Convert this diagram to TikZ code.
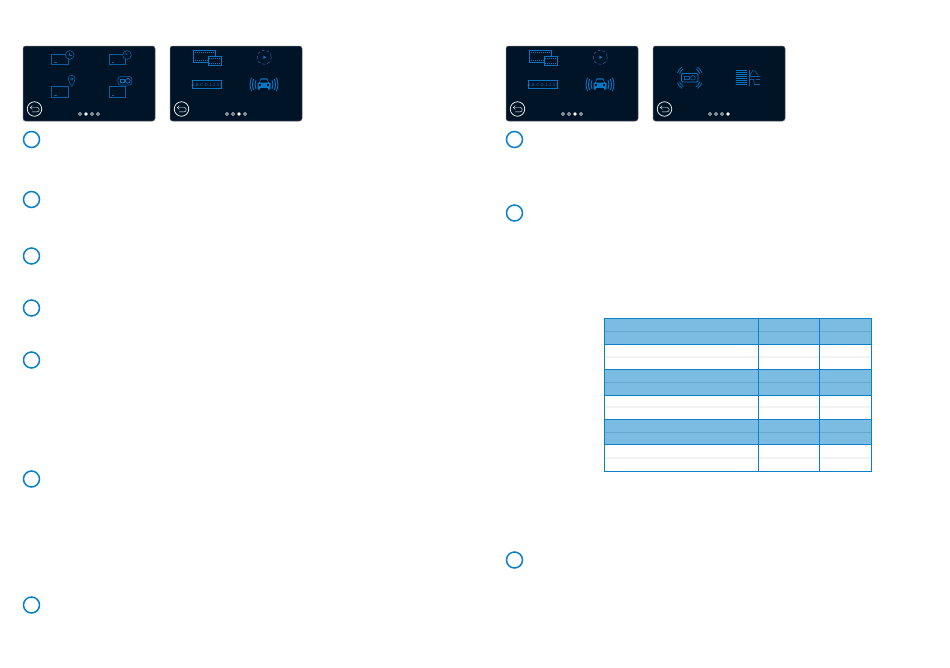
\documentclass[tikz,border=0pt]{standalone}
\usepackage{tikz}
\usetikzlibrary{positioning}
\definecolor{panelbg}{HTML}{001428}
\definecolor{iconblue}{HTML}{0A5F9F}
\definecolor{iconbright}{HTML}{0A76C2}
\definecolor{ringblue}{HTML}{0A80C8}
\definecolor{rowblue}{HTML}{7CBCE2}
\definecolor{rowline}{HTML}{68A6CE}
\definecolor{restline}{HTML}{F3F3F3}
\tikzset{
  panel/.style={draw=black!60, line width=0.5pt, fill=panelbg, rounded corners=2.5pt},
  icon/.style={draw=iconblue, line width=0.6pt},
  brighticon/.style={draw=iconbright, line width=0.9pt},
  backring/.style={circle, draw=white, line width=0.7pt, minimum size=14.5pt, inner sep=0pt},
  stepring/.style={circle, draw=ringblue, line width=1.5pt, minimum size=16pt, inner sep=0pt},
  % ------------------------------------------------
  % partes repetidas de los paneles
  % ------------------------------------------------
  pics/panelbase/.style={code={
    \path[panel] (0,0) rectangle (132,75);
    \node[backring] (-back) at (11.5,63) {};
    \draw[white, line width=0.45pt] (7.5,61.5) -- (14,61.5) .. controls (17,61.5) and (17,65.9) .. (14,65.9) -- (9,65.9);
    \draw[white, line width=0.45pt] (9.3,59.6) -- (7.3,61.5) -- (9.3,63.4);
    \foreach \n in {1,2,3,4} {
      \ifnum\n=#1
        \fill[white] (51+6*\n,68) circle (1.9);
      \else
        \draw[white, line width=0.6pt] (51+6*\n,68) circle (1.5);
      \fi
    }
  }},
  pics/screenicon/.style={code={
    \draw[icon] (0,0) rectangle (16.5,10.5);
    \draw[icon] (2.5,8.5) -- (5,8.5);
  }},
  pics/filmicons/.style={code={
    % fila de arriba
    \draw[brighticon] (23.3,4) rectangle (45,16.7);
    \draw[iconbright, densely dotted, line width=1pt] (24.8,6) -- (43.5,6);
    \draw[iconbright, densely dotted, line width=1pt] (24.8,14.8) -- (38,14.8);
    \draw[brighticon, fill=panelbg] (38.3,10) rectangle (51,19);
    \draw[iconbright, densely dotted, line width=1pt] (39.3,12) -- (50,12);
    \draw[iconbright, densely dotted, line width=1pt] (39.3,17) -- (50,17);
    \draw[icon, densely dashed] (94.3,11.3) circle (7);
    \fill[iconbright] (93.3,9.6) -- (96.5,11.3) -- (93.3,13) -- cycle;
    % fila de abajo
    \draw[brighticon] (22.3,34.7) rectangle (51.7,42.7);
    \node[text=iconbright, font=\sffamily\fontsize{4.2}{5}\selectfont, inner sep=0pt] (-plate) at (37,38.7) {A B C D 1 2 3 4};
    \fill[iconbright, rounded corners=0.8pt] (87.5,43.5) -- (87.5,36.5) -- (89.5,36.5) -- (90.5,32.3) -- (97.5,32.3) -- (98.5,36.5) -- (100.5,36.5) -- (100.5,43.5) -- cycle;
    \fill[panelbg] (90.8,33.6) -- (97.2,33.6) -- (97.9,36.6) -- (90.1,36.6) -- cycle;
    \fill[panelbg] (88.8,38.2) rectangle (91,39.8);
    \fill[panelbg] (97,38.2) rectangle (99.2,39.8);
    \fill[panelbg] (90,41.8) rectangle (98,44);
    \foreach \r in {9,11.5,14} {
      \draw[iconbright, line width=0.9pt] (94,38.5) ++(-28:\r) arc[start angle=-28, end angle=28, radius=\r];
      \draw[iconbright, line width=0.9pt] (94,38.5) ++(152:\r) arc[start angle=152, end angle=208, radius=\r];
    }
  }}
}

\begin{document}
\begin{tikzpicture}[x=1pt, y=-1pt]

\useasboundingbox (0,0) rectangle (950,667);

% ------------------------------------------------
% PANEL 1
% ------------------------------------------------
\begin{scope}[shift={(23,46)}]
  \pic (p1) {panelbase=2};
  \pic at (28.5,8) {screenicon};
  \pic at (86,8) {screenicon};
  \pic at (28.5,40.5) {screenicon};
  \pic at (86,40.5) {screenicon};
  \draw[icon, fill=panelbg] (46.7,9) circle (4.4);
  \draw[icon] (46.7,6.5) -- (46.7,9) -- (48.5,9);
  \draw[icon, fill=panelbg] (104,9) circle (4.4);
  \draw[icon] (104,9) -- (102.5,6.5);
  \draw[icon, fill=panelbg] (48.7,40.5) .. controls (44,33.5) and (44.5,29.3) .. (48.7,29.3) .. controls (52.9,29.3) and (53.4,33.5) .. (48.7,40.5);
  \draw[icon] (48.7,33) circle (1.2);
  \draw[icon, fill=panelbg, rounded corners=2pt] (95,30.7) rectangle (108.7,39);
  \draw[iconbright, line width=0.7pt] (97,33.5) rectangle (101,36.2);
  \draw[iconbright, line width=0.7pt] (104.8,34.8) circle (2.4);
\end{scope}

% ------------------------------------------------
% PANEL 2 y PANEL 3
% ------------------------------------------------
\begin{scope}[shift={(170,46)}]
  \pic (p2) {panelbase=3};
  \pic (i2) {filmicons};
\end{scope}

\begin{scope}[shift={(506,46)}]
  \pic (p3) {panelbase=3};
  \pic (i3) {filmicons};
\end{scope}

% ------------------------------------------------
% PANEL 4
% ------------------------------------------------
\begin{scope}[shift={(653,46)}]
  \pic (p4) {panelbase=4};
  % camara con ondas
  \draw[brighticon, rounded corners=1.2pt] (28.5,27.5) rectangle (45,36);
  \draw[icon] (31,30) rectangle (36,33.5);
  \draw[icon] (40,31.8) circle (2.3);
  \foreach \r in {11,13.2} {
    \foreach \a in {38,142,218,322} {
      \draw[iconbright, line width=0.7pt] (36.7,31.7) ++(\a-16:\r) arc[start angle=\a-16, end angle=\a+16, radius=\r];
    }
  }
  % luces y nube
  \foreach \y in {24.5,26.5,...,38.5} {
    \draw[iconbright, line width=1.1pt] (83.3,\y) -- (94,\y);
  }
  \draw[icon] (96,23.5) -- (96,40);
  \draw[icon] (97,30) -- (107,30);
  \draw[icon] (97.5,30) .. controls (96.5,26.5) and (99,27) .. (100,24.5) .. controls (102,24) and (103,26) .. (103,27) .. controls (105,27) and (105.5,29) .. (105,30);
  \draw[icon] (97,33.5) -- (100.5,33.5) -- (101.5,38.5) -- (107,38.5);
  \draw[icon] (103,33.5) -- (107,33.5);
\end{scope}

% ------------------------------------------------
% CIRCULOS DE PASOS
% ------------------------------------------------
\foreach \y [count=\i] in {139.5,199.5,256,308,360,479,605} {
  \node[stepring] (a\i) at (31.5,\y) {};
}
\foreach \y [count=\i] in {139.5,213,560} {
  \node[stepring] (b\i) at (514.5,\y) {};
}

% ------------------------------------------------
% TABLA
% ------------------------------------------------
\foreach \ya/\yb/\ymid in {318.5/344.5/331.5, 369.5/395.5/382.5, 419.5/444.5/432.5} {
  \fill[rowblue] (604.5,\ya) rectangle (871.5,\yb);
  \draw[rowline, line width=0.9pt] (604.5,\ymid) -- (871.5,\ymid);
}
\foreach \ymid in {357,407,458} {
  \draw[restline, line width=1.6pt] (604.5,\ymid) -- (871.5,\ymid);
}
\foreach \y in {344.5,369.5,395.5,419.5,444.5} {
  \draw[ringblue, line width=0.9pt] (604.5,\y) -- (871.5,\y);
}
\foreach \x in {758,819} {
  \draw[ringblue, line width=0.9pt] (\x,318.5) -- (\x,471.5);
}
\draw[ringblue, line width=0.9pt] (604.5,318.5) rectangle (871.5,471.5);

\end{tikzpicture}
\end{document}
